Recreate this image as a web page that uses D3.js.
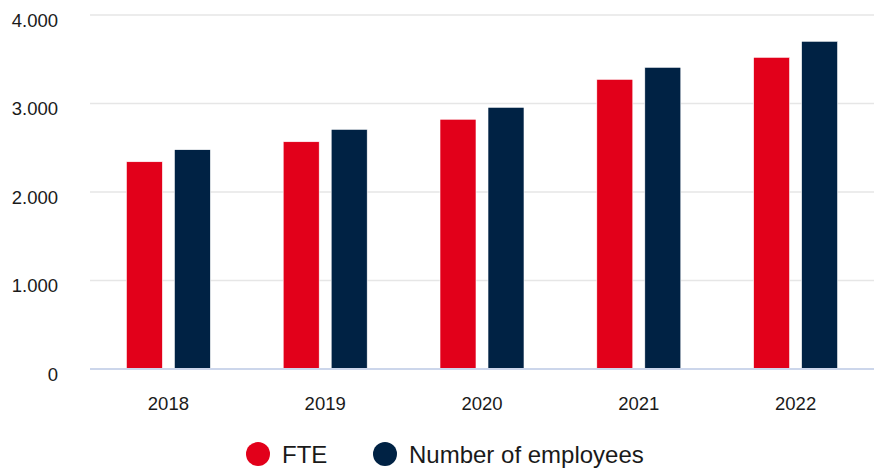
<!DOCTYPE html>
<html>
<head>
<meta charset="utf-8">
<script src="https://cdn.jsdelivr.net/npm/d3@7"></script>
<style>
  body { margin: 0; background: #fff; }
  text { font-family: "Liberation Sans", Arial, sans-serif; fill: #1a1a1a; }
</style>
</head>
<body>
<script>
// data
const years = ["2018", "2019", "2020", "2021", "2022"];
const fte = [2342, 2568, 2822, 3273, 3522];
const employees = [2478, 2708, 2957, 3409, 3703];
const seriesNames = ["FTE", "Number of employees"];
const seriesColors = ["#e2001a", "#002244"];
const yTicks = [0, 1000, 2000, 3000, 4000];

const width = 877, height = 469;
const plotLeft = 90, plotRight = 874, plotTop = 15, plotBottom = 369;

const svg = d3.select("body")
  .append("svg")
  .attr("width", width)
  .attr("height", height);

const x = d3.scaleBand().domain(years).range([plotLeft, plotRight]);
const x1 = d3.scaleBand().domain(seriesNames).range([-42, 42]).paddingInner(0.25);
const y = d3.scaleLinear().domain([0, 4000]).range([plotBottom, plotTop]);

const fmt = v => d3.format(",")(v).replace(/,/g, ".");

// gridlines
svg.append("g")
  .selectAll("line")
  .data(yTicks.filter(d => d > 0))
  .join("line")
  .attr("x1", plotLeft)
  .attr("x2", plotRight)
  .attr("y1", d => y(d))
  .attr("y2", d => y(d))
  .attr("stroke", "#e6e6e6")
  .attr("stroke-width", 1.5);

// y labels
svg.append("g")
  .selectAll("text")
  .data(yTicks)
  .join("text")
  .attr("x", 58)
  .attr("y", d => y(d) + 11.5)
  .attr("text-anchor", "end")
  .attr("font-size", 18.5)
  .text(fmt);

// bars
const rows = years.map((yr, i) => ({ year: yr, values: [fte[i], employees[i]] }));
const groups = svg.append("g")
  .selectAll("g")
  .data(rows)
  .join("g")
  .attr("transform", d => `translate(${x(d.year) + x.bandwidth() / 2},0)`);

groups.selectAll("rect")
  .data(d => d.values.map((v, k) => ({ name: seriesNames[k], value: v, color: seriesColors[k] })))
  .join("rect")
  .attr("x", d => x1(d.name))
  .attr("width", x1.bandwidth())
  .attr("y", d => y(d.value))
  .attr("height", d => y(0) - y(d.value))
  .attr("fill", d => d.color)
  .attr("stroke", "#fff")
  .attr("stroke-width", 0.6);

// x axis line
svg.append("line")
  .attr("x1", plotLeft)
  .attr("x2", plotRight)
  .attr("y1", y(0))
  .attr("y2", y(0))
  .attr("stroke", "#ccd6eb")
  .attr("stroke-width", 2);

// x labels
svg.append("g")
  .selectAll("text")
  .data(years)
  .join("text")
  .attr("x", d => x(d) + x.bandwidth() / 2)
  .attr("y", 409.5)
  .attr("text-anchor", "middle")
  .attr("font-size", 18.5)
  .text(d => d);

// legend
const legendX = [258, 385];
const legend = svg.append("g")
  .selectAll("g")
  .data(seriesNames)
  .join("g")
  .attr("transform", (d, i) => `translate(${legendX[i]},454)`);

legend.append("circle")
  .attr("r", 12)
  .attr("fill", (d, i) => seriesColors[i]);

legend.append("text")
  .attr("x", 24)
  .attr("y", 8.5)
  .attr("font-size", 24)
  .attr("fill", "#333")
  .text(d => d);
</script>
</body>
</html>
